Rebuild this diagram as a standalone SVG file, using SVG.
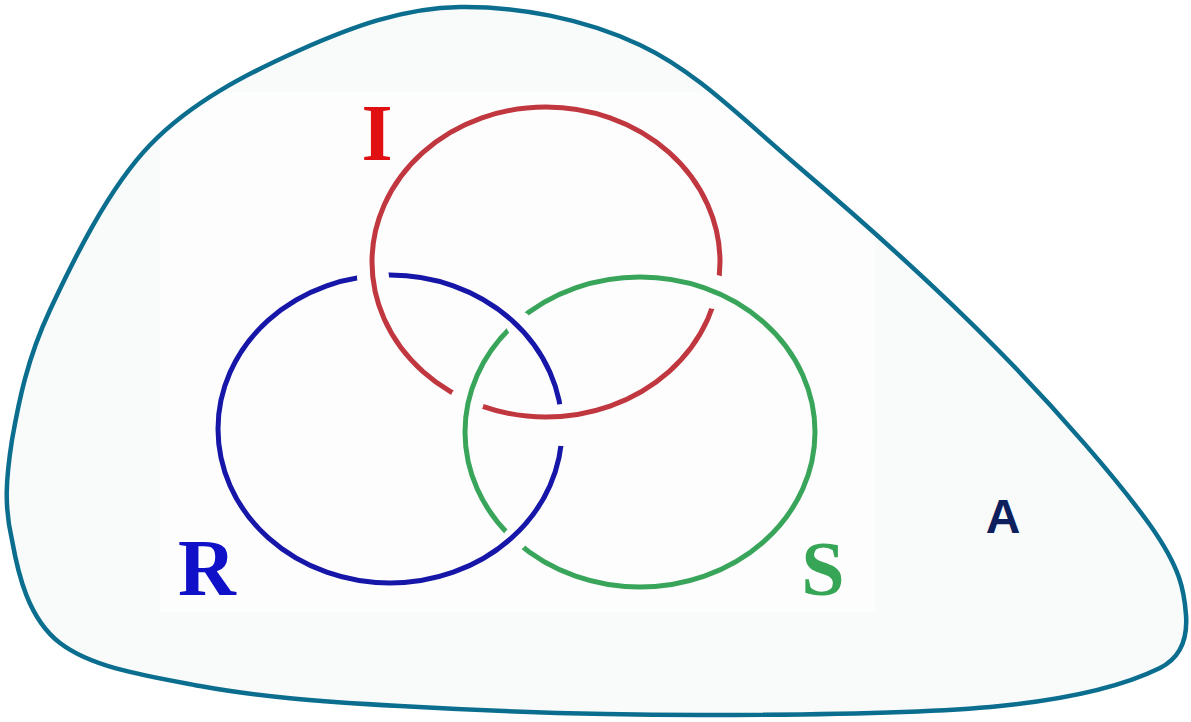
<svg xmlns="http://www.w3.org/2000/svg" width="1191" height="722" viewBox="0 0 1191 722">
  <style>
    .ring { fill: none; stroke-width: 5; }
    .serif { font-family: "Liberation Serif", "Times New Roman", serif; font-weight: bold; }
    .sans { font-family: "Liberation Sans", Arial, sans-serif; font-weight: bold; }
  </style>
  <defs>
    <path id="blobShape" d="M460,7 C516.7,6.2 583.3,18.2 640,45 C696.7,71.8 740,116.8 800,168 C860,219.2 941.7,292.5 1000,352 C1058.3,411.5 1118.7,481.2 1150,525 C1181,568.8 1184.3,591.2 1186,615 C1187.7,638.8 1180,658 1160,668 C1129,683.2 1076.7,698.2 1000,706 C923.3,713.8 800,715 700,715 C600,715 483.3,710.8 400,706 C316.7,701.2 256.7,696.5 200,686 C143.3,675.5 91.7,667.3 60,643 C28.3,618.7 18,573.8 12,540 C4,506.2 6,478.3 12,440 C18.7,401.7 27,359.2 50,310 C73,260.8 108.3,188.3 150,145 C191.7,101.7 248.3,73 300,50 C351.7,27 403.3,7.8 460,7 Z"/>
    <clipPath id="blobClip"><use href="#blobShape"/></clipPath>
    <mask id="mR" maskUnits="userSpaceOnUse" x="0" y="0" width="1191" height="722">
      <rect width="1191" height="722" fill="#fff"/>
      <circle cx="373" cy="277" r="16" fill="#000"/>
      <circle cx="562" cy="425" r="21" fill="#000"/>
    </mask>
    <mask id="mI" maskUnits="userSpaceOnUse" x="0" y="0" width="1191" height="722">
      <rect width="1191" height="722" fill="#fff"/>
      <circle cx="715" cy="292" r="17" fill="#000"/>
      <circle cx="467" cy="401" r="17" fill="#000"/>
    </mask>
    <mask id="mS" maskUnits="userSpaceOnUse" x="0" y="0" width="1191" height="722">
      <rect width="1191" height="722" fill="#fff"/>
      <circle cx="519" cy="324" r="13" fill="#000"/>
      <circle cx="515" cy="539" r="12" fill="#000"/>
    </mask>
  </defs>
  <rect width="1191" height="722" fill="#ffffff"/>
  <g id="universe-A">
    <use href="#blobShape" fill="#f9fbfb"/>
    <rect x="160" y="92" width="715" height="520" fill="#fdfdfd" clip-path="url(#blobClip)"/>
    <use href="#blobShape" fill="none" stroke="#0b6e8f" stroke-width="4.5"/>
    <text class="sans" x="1003" y="533" font-size="48" fill="#0e1f5e" text-anchor="middle">A</text>
  </g>
  <g id="ring-R">
    <ellipse class="ring" cx="390" cy="429" rx="172" ry="154" stroke="#1616a8" mask="url(#mR)"/>
    <text class="serif" x="178" y="595" font-size="80" fill="#1010c8">R</text>
  </g>
  <g id="ring-I">
    <ellipse class="ring" cx="546" cy="262" rx="174" ry="155" stroke="#c1373f" mask="url(#mI)"/>
    <text class="serif" x="377" y="160" font-size="80" fill="#e00f12" text-anchor="middle">I</text>
  </g>
  <g id="ring-S">
    <ellipse class="ring" cx="640" cy="432" rx="175" ry="155" stroke="#39a55a" mask="url(#mS)"/>
    <text class="serif" x="823" y="595" font-size="78" fill="#36a656" text-anchor="middle">S</text>
  </g>
</svg>
